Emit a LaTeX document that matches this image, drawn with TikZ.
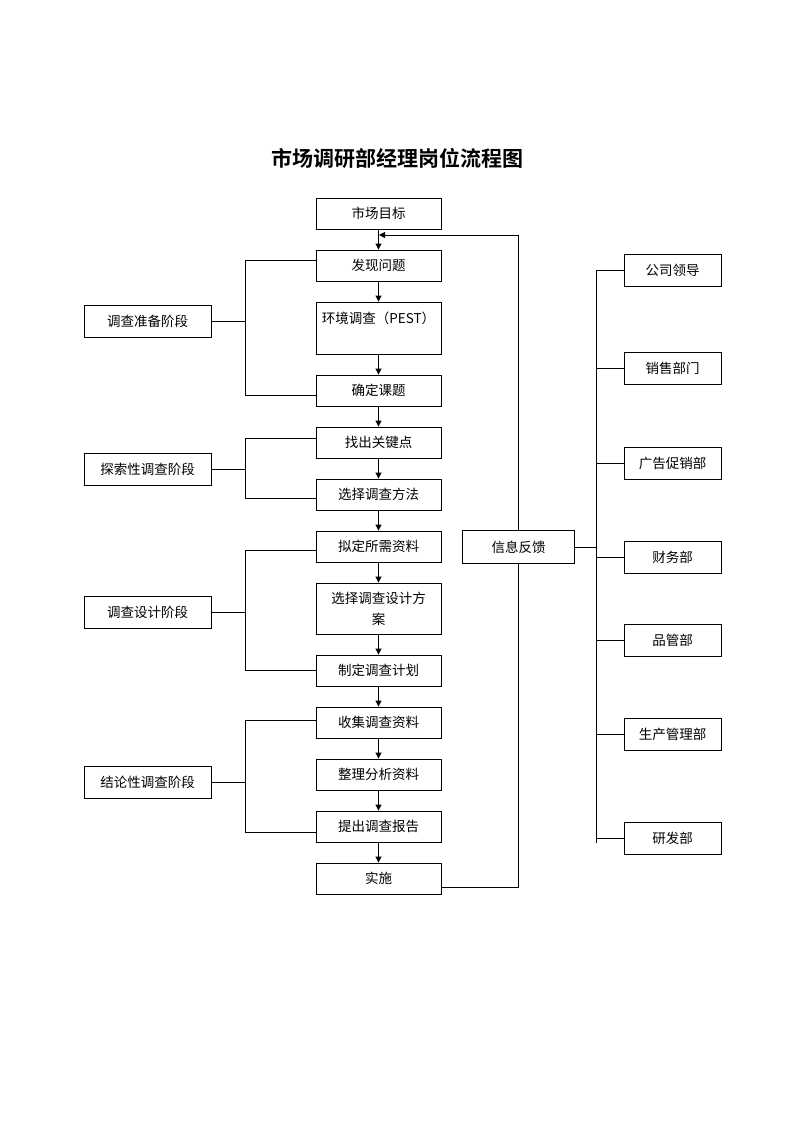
\documentclass[tikz,border=0pt]{standalone}
\usepackage{fontspec}
\setmainfont{Noto Sans CJK SC}
\newfontfamily\cjkbold{Noto Sans CJK SC Bold}
\usetikzlibrary{arrows.meta,calc}
\tikzset{
  line/.style={line width=0.9pt, draw=black},
  flow/.style={line, -{Triangle[length=6pt,width=6pt]}},
  box/.style={draw, line width=0.9pt, inner sep=0pt, align=center,
              font=\fontsize{13.5}{21}\selectfont},
  mainbox/.style={box, minimum width=125pt, minimum height=31pt},
  stagebox/.style={box, minimum width=127pt, minimum height=32pt},
  deptbox/.style={box, minimum width=97pt, minimum height=32pt},
}
\begin{document}
\begin{tikzpicture}[x=1pt,y=-1pt]
\useasboundingbox (0,0) rectangle (793,1122);
\node[font=\cjkbold\fontsize{21}{24}\selectfont] (title) at (397,158) {市场调研部经理岗位流程图};
% main column
\node[mainbox] (m0) at (378.5,213.5) {市场目标};
\node[mainbox] (m1) at (378.5,265.5) {发现问题};
\node[mainbox, minimum height=52pt] (m2) at (378.5,328) {环境调查（PEST）\\ ~};
\node[mainbox] (m3) at (378.5,390.5) {确定课题};
\node[mainbox] (m4) at (378.5,442.5) {找出关键点};
\node[mainbox] (m5) at (378.5,494.5) {选择调查方法};
\node[mainbox] (m6) at (378.5,546.5) {拟定所需资料};
\node[mainbox, minimum height=51pt] (m7) at (378.5,608.5) {选择调查设计方\\案};
\node[mainbox] (m8) at (378.5,670.5) {制定调查计划};
\node[mainbox] (m9) at (378.5,722.5) {收集调查资料};
\node[mainbox] (m10) at (378.5,774.5) {整理分析资料};
\node[mainbox] (m11) at (378.5,826.5) {提出调查报告};
\node[mainbox] (m12) at (378.5,878.5) {实施};
\foreach \a/\b in {m0/m1,m1/m2,m2/m3,m3/m4,m4/m5,m5/m6,m6/m7,m7/m8,m8/m9,m9/m10,m10/m11,m11/m12}
  \draw[flow] (\a.south) -- (\b.north);
% stage boxes
\node[stagebox] (s1) at (147.5,321) {调查准备阶段};
\node[stagebox] (s2) at (147.5,469) {探索性调查阶段};
\node[stagebox] (s3) at (147.5,612) {调查设计阶段};
\node[stagebox] (s4) at (147.5,782) {结论性调查阶段};
% brackets
\draw[line] ($(m1.west)+(0,-5)$) -| (245,321) -- (s1.east);
\draw[line] ($(m3.west)+(0,5)$) -| (245,321);
\draw[line] ($(m4.west)+(0,-4)$) -| (245,469) -- (s2.east);
\draw[line] ($(m5.west)+(0,4)$) -| (245,469);
\draw[line] ($(m6.west)+(0,4)$) -| (245,612) -- (s3.east);
\draw[line] ($(m8.west)+(0,0)$) -| (245,612);
\draw[line] ($(m9.west)+(0,-2)$) -| (245,782) -- (s4.east);
\draw[line] ($(m11.west)+(0,6)$) -| (245,782);
% feedback
\node[box, minimum width=112pt, minimum height=33pt] (fb) at (518.5,547) {信息反馈};
\coordinate (fbtop) at (518.5,235);
\coordinate (fbtip) at (379,235);
\draw[line] ($(m12.east)+(0,9)$) -| (fb.south);
\draw[line] (fb.north) -- (fbtop);
\draw[flow] (fbtop) -- (fbtip);
% departments
\node[deptbox] (d1) at (672.5,270) {公司领导};
\node[deptbox] (d2) at (672.5,368) {销售部门};
\node[deptbox] (d3) at (672.5,463) {广告促销部};
\node[deptbox] (d4) at (672.5,557) {财务部};
\node[deptbox] (d5) at (672.5,640) {品管部};
\node[deptbox] (d6) at (672.5,734) {生产管理部};
\node[deptbox] (d7) at (672.5,838) {研发部};
\coordinate (bustop) at (596,270);
\coordinate (busbot) at (596,843);
\draw[line] (bustop) -- (busbot);
\foreach \d in {d1,d2,d3,d4,d5,d6,d7}
  \draw[line] (\d.west) -- (\d.west -| bustop);
\draw[line] (fb.east) -- (fb.east -| bustop);
\end{tikzpicture}
\end{document}
